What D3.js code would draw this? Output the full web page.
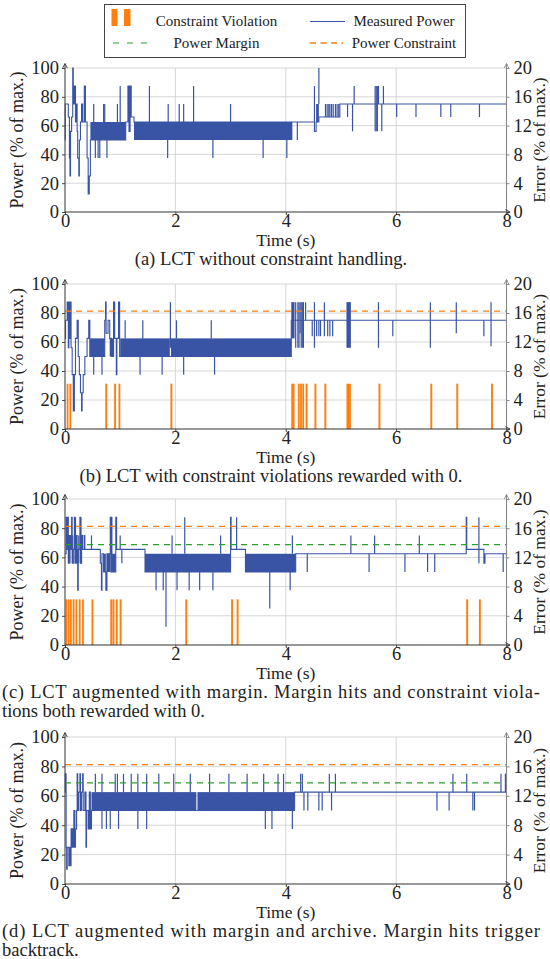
<!DOCTYPE html>
<html>
<head>
<meta charset="utf-8">
<script src="https://cdn.jsdelivr.net/npm/d3@7"></script>
<style>
  body { margin: 0; background: #fff; }
  svg { display: block; }
  text { font-family: "Liberation Serif", "DejaVu Serif", serif; fill: #222; }
</style>
</head>
<body>
<div id="chart"></div>
<script>
// ---- data ----
var X_TICKS = [0, 2, 4, 6, 8];
var P_TICKS = [0, 20, 40, 60, 80, 100];
var E_TICKS = [0, 4, 8, 12, 16, 20];
var CONSTRAINT = 81.25;
var MARGIN = 68.75;
var VIOL_H = 31.25;

// (a) steps [t, power], bands [t0, t1, lo, hi], spikes [t, from, to]
var aSteps = [[0,50],[0.005,75],[0.06,66],[0.08,37.5],[0.09,25],[0.1,56],[0.12,66],[0.14,100],[0.15,75],[0.17,87.5],[0.19,62.5],[0.2,75],
  [0.22,56],[0.23,37.5],[0.25,25],[0.26,50],[0.28,62.5],[0.3,75],[0.32,62.5],[0.35,87.5],[0.37,62.5],[0.4,37.5],[0.42,12.5],[0.44,25],
  [0.46,50],[1.1,62.5],[1.14,87.5],[1.16,56],[1.18,87.5],[1.2,66],[1.25,62.5],[4.12,62.5],[4.52,56],[4.55,62.5],[4.6,66],[4.98,75],[8,75]];
var aBands = [[0.46,1.1,50,62.5],[1.25,4.12,50,62.5],[4.55,4.6,62.5,75]];
var aSpikes = [[0.52,62.5,75],[0.55,50,37.5],[0.6,50,37.5],[0.63,50,37.5],[0.7,62.5,75],[0.72,62.5,75],[0.76,50,37.5],[0.95,62.5,75],[1.0,62.5,87.5],
  [1.53,62.5,87.5],[1.86,50,37.5],[1.87,62.5,75],[2.07,62.5,75],[2.15,62.5,75],[2.33,62.5,87.5],[2.68,50,37.5],[3.0,62.5,75],[3.59,50,37.5],[4.02,50,37.5],
  [4.21,62.5,50],[4.52,62.5,87.5],[4.6,75,100],
  [4.72,66,75],[4.75,66,75],[4.78,66,75],[4.8,66,75],[4.83,66,75],[4.86,66,75],[4.9,66,75],[4.93,66,75],[4.96,66,75],
  [5.12,75,66],[5.21,75,56],[5.24,75,87.5],[5.62,56,87.5],[5.64,56,87.5],[5.66,56,87.5],[5.68,75,87.5],[5.74,75,56],[5.77,75,87.5],
  [6.01,75,66],[6.36,75,66],[6.81,75,66],[6.99,75,66],[7.51,75,66]];
var aViol = [];

// (b)
var bSteps = [[0,62.5],[0.01,75],[0.04,87.5],[0.06,56],[0.07,87.5],[0.09,62.5],[0.1,87.5],[0.11,56],[0.13,37.5],[0.15,12.5],[0.17,37.5],
  [0.19,62.5],[0.22,75],[0.24,50],[0.26,37.5],[0.28,25],[0.3,12.5],[0.31,25],[0.33,37.5],[0.36,50],[0.4,62.5],[0.43,75],[0.45,50],
  [0.72,75],[0.735,87.5],[0.745,66],[0.78,75],[0.81,62.5],[0.84,50],[0.88,87.5],[0.9,62.5],[0.93,37.5],[0.94,62.5],[0.97,87.5],[0.99,50],
  [4.1,75],[8,75]];
var bBands = [[0.45,0.72,50,62.5],[0.81,0.88,50,62.5],[1.0,1.9,50,62.5],[1.92,4.1,50,62.5],[4.1,4.16,62.5,87.5],[5.1,5.18,56,87.5]];
var bSpikes = [[0.52,50,37.5],[0.67,50,37.5],[1.09,62.5,75],[1.36,50,37.5],[1.41,62.5,75],[1.76,50,37.5],[1.91,56,87.5],[2.02,62.5,75],
  [2.15,50,37.5],[2.65,62.5,75],[2.71,50,37.5],
  [4.18,56,87.5],[4.22,56,87.5],[4.24,56,87.5],[4.26,66,87.5],[4.28,56,87.5],[4.3,56,87.5],[4.32,56,87.5],[4.36,75,87.5],[4.48,75,64],
  [4.52,56,87.5],[4.56,75,64],[4.6,75,64],[4.63,75,64],[4.7,64,87.5],[4.76,75,64],[4.8,75,64],[4.85,75,64],[5.68,56,87.5],[5.94,75,64],
  [6.62,56,87.5],[7.09,66,87.5],[7.59,75,64],[7.72,57,87.5]];
var bViol = [[0.03,0.06],[0.08,0.1],[0.73,0.765],[0.89,0.925],[0.97,1.0],[1.91,1.945],[4.1,4.16],[4.22,4.25],[4.26,4.29],[4.3,4.33],
  [4.36,4.395],[4.52,4.555],[4.7,4.735],[5.1,5.18],[5.68,5.715],[6.62,6.655],[7.09,7.125],[7.72,7.755]];

// (c)
var cSteps = [[0,62.5],[0.02,87.5],[0.03,65.5],[0.05,87.5],[0.06,56],[0.08,75],[0.1,65.5],[0.12,87.5],[0.13,56],[0.15,65.5],[0.17,87.5],
  [0.18,56],[0.2,75],[0.22,56],[0.23,37.5],[0.24,65.5],[0.27,87.5],[0.28,56],[0.3,75],[0.32,65.5],[0.35,75],[0.36,65.5],[0.64,56],
  [0.66,37.5],[0.67,62.5],[0.7,50],[0.74,37.5],[0.76,62.5],[0.82,87.5],[0.83,50],[0.84,87.5],[0.85,50],[0.92,87.5],[0.935,65.5],
  [1.45,50],[3.0,87.5],[3.01,65.5],[3.27,50],[4.18,62.5],[7.27,87.5],[7.28,65.5],[7.59,56],[7.61,62.5],[8,62.5]];
var cBands = [[0.7,0.74,50,62.5],[0.76,0.82,50,62.5],[0.85,0.92,50,62.5],[1.45,3.0,50,62.5],[3.27,4.18,50,62.5]];
var cSpikes = [[0.04,65.5,75],[0.09,56,75],[0.14,56,75],[0.19,65.5,87.5],[0.25,56,75],[0.29,56,87.5],[0.48,65.5,75],[1.0,65.5,75],[1.03,65.5,56],
  [1.65,50,37.5],[1.78,50,37.5],[1.83,50,12.5],[1.94,62.5,75],[2.03,50,37.5],[2.17,62.5,87.5],[2.25,50,37.5],[2.44,50,37.5],[2.68,50,37.5],
  [2.82,62.5,75],[3.11,65.5,87.5],[3.71,50,25],[4.08,50,37.5],[4.12,62.5,75],
  [4.39,62.5,50],[5.18,62.5,75],[5.51,62.5,50],[5.61,62.5,75],[6.16,62.5,50],[6.42,62.5,75],[6.57,62.5,50],[6.7,62.5,50],[7.5,56,87.5],[7.94,62.5,50]];
var cViol = [[0.01,0.035],[0.05,0.075],[0.09,0.115],[0.14,0.165],[0.19,0.215],[0.25,0.275],[0.31,0.335],[0.48,0.515],[0.82,0.855],
  [0.86,0.895],[0.92,0.955],[0.99,1.025],[2.18,2.215],[3.01,3.045],[3.11,3.145],[7.27,7.305],[7.5,7.535]];

// (d)
var dSteps = [[0,62.5],[0.005,75],[0.02,25],[0.03,10],[0.04,25],[0.07,12.5],[0.09,25],[0.1,12.5],[0.11,37.5],[0.13,25],[0.14,37.5],
  [0.15,25],[0.16,50],[0.18,25],[0.19,37.5],[0.21,50],[0.22,75],[0.23,50],[0.25,62.5],[0.27,75],[0.28,50],[0.3,62.5],[0.32,75],[0.33,50],
  [0.36,62.5],[0.38,25],[0.39,50],[0.42,37.5],[0.44,62.5],[0.46,37.5],[0.48,50],[4.16,62.5],[8,62.5]];
var dBands = [[0.48,2.38,50,62.5],[2.4,4.16,50,62.5]];
var dSpikes = [[0.55,62.5,75],[0.67,62.5,75],[0.91,62.5,75],[0.95,62.5,75],[1.06,62.5,75],[1.2,62.5,75],[1.32,62.5,75],[1.48,62.5,75],
  [1.7,62.5,75],[1.97,62.5,75],[2.27,62.5,75],[2.62,62.5,75],[2.97,62.5,75],[3.3,62.5,75],[3.6,62.5,75],[3.86,62.5,75],[3.96,62.5,75],
  [0.67,50,37.5],[0.75,50,37.5],[0.82,50,37.5],[0.97,50,37.5],[1.32,50,37.5],[1.48,50,37.5],[3.63,50,37.5],[3.75,50,37.5],[4.12,50,37.5],
  [4.27,62.5,75],[4.3,62.5,75],[4.79,62.5,75],[4.9,62.5,75],[7.03,62.5,75],[7.28,62.5,75],[7.9,62.5,75],[7.98,62.5,75],
  [4.33,62.5,50],[4.4,62.5,50],[4.6,62.5,50],[4.66,62.5,50],[4.83,62.5,50],[6.74,62.5,50],[6.96,62.5,50],[7.39,62.5,50],[7.42,62.5,50]];
var dViol = [];

var CAPTIONS = {
  a: ["(a) LCT without constraint handling."],
  b: ["(b) LCT with constraint violations rewarded with 0."],
  c: ["(c) LCT augmented with margin. Margin hits and constraint viola-", "tions both rewarded with 0."],
  d: ["(d) LCT augmented with margin and archive. Margin hits trigger", "backtrack."]
};
var LEGEND = ["Constraint Violation", "Measured Power", "Power Margin", "Power Constraint"];

// ---- layout ----
var W = 550, H = 959;
var BLUE = "#3a54a5", ORANGE = "#ff7f0e", GREEN = "#2ca02c", GRID = "#d2d2d2";
var X0 = 65, X1 = 506.5, CAP_L = 2, CAP_R = 540;

var panels = [
  {id: "a", top: 68, bottom: 212, steps: aSteps, bands: aBands, spikes: aSpikes, viol: aViol, constraint: false, margin: false},
  {id: "b", top: 284, bottom: 429, steps: bSteps, bands: bBands, spikes: bSpikes, viol: bViol, constraint: true, margin: false},
  {id: "c", top: 499, bottom: 645, steps: cSteps, bands: cBands, spikes: cSpikes, viol: cViol, constraint: true, margin: true},
  {id: "d", top: 737, bottom: 884, steps: dSteps, bands: dBands, spikes: dSpikes, viol: dViol, constraint: true, margin: true}
];

var svg = d3.select("#chart").append("svg")
    .attr("width", W)
    .attr("height", H);

var defs = svg.append("defs");
[["arrow-dark", "#333"], ["arrow-gray", "#888"]].forEach(function(m) {
  defs.append("marker")
      .attr("id", m[0])
      .attr("viewBox", "0 0 10 10")
      .attr("refX", 8).attr("refY", 5)
      .attr("markerWidth", 6).attr("markerHeight", 6)
      .attr("markerUnits", "userSpaceOnUse")
      .attr("orient", "auto")
    .append("path")
      .attr("d", "M1,1 L9,5 L1,9")
      .attr("fill", "none")
      .attr("stroke", m[1])
      .attr("stroke-width", 1.4);
});

var xScale = d3.scaleLinear().domain([0, 8]).range([X0, X1]);

function drawPanel(p) {
  var y = d3.scaleLinear().domain([0, 100]).range([p.bottom, p.top]);
  var yErr = d3.scaleLinear().domain([0, 20]).range([p.bottom, p.top]);
  var g = svg.append("g").attr("class", "panel-" + p.id);

  // grid
  g.selectAll(".hgrid").data(P_TICKS.slice(1)).enter().append("line")
      .attr("x1", X0).attr("x2", X1)
      .attr("y1", function(d) { return y(d); }).attr("y2", function(d) { return y(d); })
      .attr("stroke", GRID).attr("stroke-width", 0.9);
  g.selectAll(".vgrid").data(X_TICKS.slice(1, -1)).enter().append("line")
      .attr("x1", function(d) { return xScale(d); }).attr("x2", function(d) { return xScale(d); })
      .attr("y1", y(0)).attr("y2", y(100))
      .attr("stroke", GRID).attr("stroke-width", 0.9);

  // constraint violations
  g.selectAll(".viol").data(p.viol).enter().append("rect")
      .attr("x", function(d) { return xScale(d[0]); })
      .attr("width", function(d) { return Math.max(1.8, xScale(d[1]) - xScale(d[0])); })
      .attr("y", y(VIOL_H))
      .attr("height", y(0) - y(VIOL_H))
      .attr("fill", ORANGE);

  // dense oscillation blocks
  g.selectAll(".band").data(p.bands).enter().append("rect")
      .attr("x", function(d) { return xScale(d[0]); })
      .attr("width", function(d) { return xScale(d[1]) - xScale(d[0]); })
      .attr("y", function(d) { return y(d[3]); })
      .attr("height", function(d) { return y(d[2]) - y(d[3]); })
      .attr("fill", BLUE);

  // measured power
  g.append("path")
      .datum(p.steps)
      .attr("fill", "none")
      .attr("stroke", BLUE)
      .attr("stroke-width", 1.1)
      .attr("d", d3.line()
          .x(function(d) { return xScale(d[0]); })
          .y(function(d) { return y(d[1]); })
          .curve(d3.curveStepAfter));

  g.selectAll(".spike").data(p.spikes).enter().append("line")
      .attr("x1", function(d) { return xScale(d[0]); }).attr("x2", function(d) { return xScale(d[0]); })
      .attr("y1", function(d) { return y(d[1]); }).attr("y2", function(d) { return y(d[2]); })
      .attr("stroke", BLUE).attr("stroke-width", 1.2);

  // limit lines
  if (p.margin) {
    g.append("line")
        .attr("x1", X0).attr("x2", X1).attr("y1", y(MARGIN)).attr("y2", y(MARGIN))
        .attr("stroke", GREEN).attr("stroke-width", 1.3).attr("stroke-dasharray", "6,5");
  }
  if (p.constraint) {
    g.append("line")
        .attr("x1", X0).attr("x2", X1).attr("y1", y(CONSTRAINT)).attr("y2", y(CONSTRAINT))
        .attr("stroke", ORANGE).attr("stroke-width", 1.3).attr("stroke-dasharray", "6,5");
  }

  // axes
  var left = g.append("g")
      .attr("transform", "translate(" + X0 + ",0)")
      .call(d3.axisLeft(y).tickValues(P_TICKS).tickSize(3).tickPadding(3));
  var right = g.append("g")
      .attr("transform", "translate(" + X1 + ",0)")
      .call(d3.axisRight(yErr).tickValues(E_TICKS).tickSize(3).tickPadding(4));
  var bottom = g.append("g")
      .attr("transform", "translate(0," + p.bottom + ")")
      .call(d3.axisBottom(xScale).tickValues(X_TICKS).tickSize(3).tickPadding(-1));
  [left, right, bottom].forEach(function(ax) {
    ax.select(".domain").remove();
    ax.selectAll(".tick text")
        .attr("font-family", "Liberation Serif, serif")
        .attr("font-size", 18.5)
        .attr("fill", "#222");
  });
  left.selectAll(".tick line").attr("stroke", "#444");
  bottom.selectAll(".tick line").attr("stroke", "#444");
  right.selectAll(".tick line").attr("stroke", "#888");

  g.append("line")
      .attr("x1", X1).attr("x2", X1).attr("y1", p.bottom).attr("y2", p.top - 4)
      .attr("stroke", "#888").attr("stroke-width", 1.1)
      .attr("marker-end", "url(#arrow-gray)");
  g.append("line")
      .attr("x1", X0).attr("x2", X0).attr("y1", p.bottom).attr("y2", p.top - 4)
      .attr("stroke", "#444").attr("stroke-width", 1.1)
      .attr("marker-end", "url(#arrow-dark)");
  g.append("line")
      .attr("x1", X0).attr("x2", X1 + 3).attr("y1", p.bottom).attr("y2", p.bottom)
      .attr("stroke", "#333").attr("stroke-width", 1.1)
      .attr("marker-end", "url(#arrow-dark)");

  // labels
  var mid = (p.top + p.bottom) / 2;
  g.append("text")
      .attr("transform", "translate(23," + mid + ") rotate(-90)")
      .attr("text-anchor", "middle")
      .attr("font-size", 18)
      .text("Power (% of max.)");
  g.append("text")
      .attr("transform", "translate(545," + mid + ") rotate(-90)")
      .attr("text-anchor", "middle")
      .attr("font-size", 17.5)
      .text("Error (% of max.)");
  g.append("text")
      .attr("x", (X0 + X1) / 2)
      .attr("y", p.bottom + 34)
      .attr("text-anchor", "middle")
      .attr("font-size", 17.5)
      .text("Time (s)");

  var lines = CAPTIONS[p.id];
  lines.forEach(function(line, i) {
    var t = g.append("text")
        .attr("y", p.bottom + 53 + i * 18.5)
        .attr("font-size", 18.5)
        .text(line);
    if (lines.length === 1) {
      t.attr("x", (CAP_L + CAP_R) / 2).attr("text-anchor", "middle");
    } else if (i < lines.length - 1) {
      t.attr("x", CAP_L).attr("textLength", CAP_R - CAP_L).attr("lengthAdjust", "spacing");
    } else {
      t.attr("x", CAP_L);
    }
  });
}

panels.forEach(drawPanel);

// legend
var lg = svg.append("g").attr("class", "legend");
lg.append("rect")
    .attr("x", 104.5).attr("y", 4.5).attr("width", 361).attr("height", 53)
    .attr("fill", "#fff").attr("stroke", "#444").attr("stroke-width", 1);
lg.append("rect").attr("x", 111.5).attr("y", 9).attr("width", 6).attr("height", 17).attr("fill", ORANGE);
lg.append("rect").attr("x", 124).attr("y", 9).attr("width", 6.5).attr("height", 17).attr("fill", ORANGE);
lg.append("line").attr("x1", 113).attr("x2", 147).attr("y1", 43).attr("y2", 43)
    .attr("stroke", GREEN).attr("stroke-width", 1.2).attr("stroke-dasharray", "6,8");
lg.append("line").attr("x1", 310).attr("x2", 345).attr("y1", 21.5).attr("y2", 21.5)
    .attr("stroke", BLUE).attr("stroke-width", 1.2);
lg.append("line").attr("x1", 310).attr("x2", 343).attr("y1", 43).attr("y2", 43)
    .attr("stroke", ORANGE).attr("stroke-width", 1.4).attr("stroke-dasharray", "6,4.5");
[[216.5, 26, LEGEND[0]], [404, 26, LEGEND[1]], [216.5, 48, LEGEND[2]], [404, 48, LEGEND[3]]].forEach(function(l) {
  lg.append("text")
      .attr("x", l[0]).attr("y", l[1])
      .attr("text-anchor", "middle")
      .attr("font-size", 15)
      .text(l[2]);
});
</script>
</body>
</html>
